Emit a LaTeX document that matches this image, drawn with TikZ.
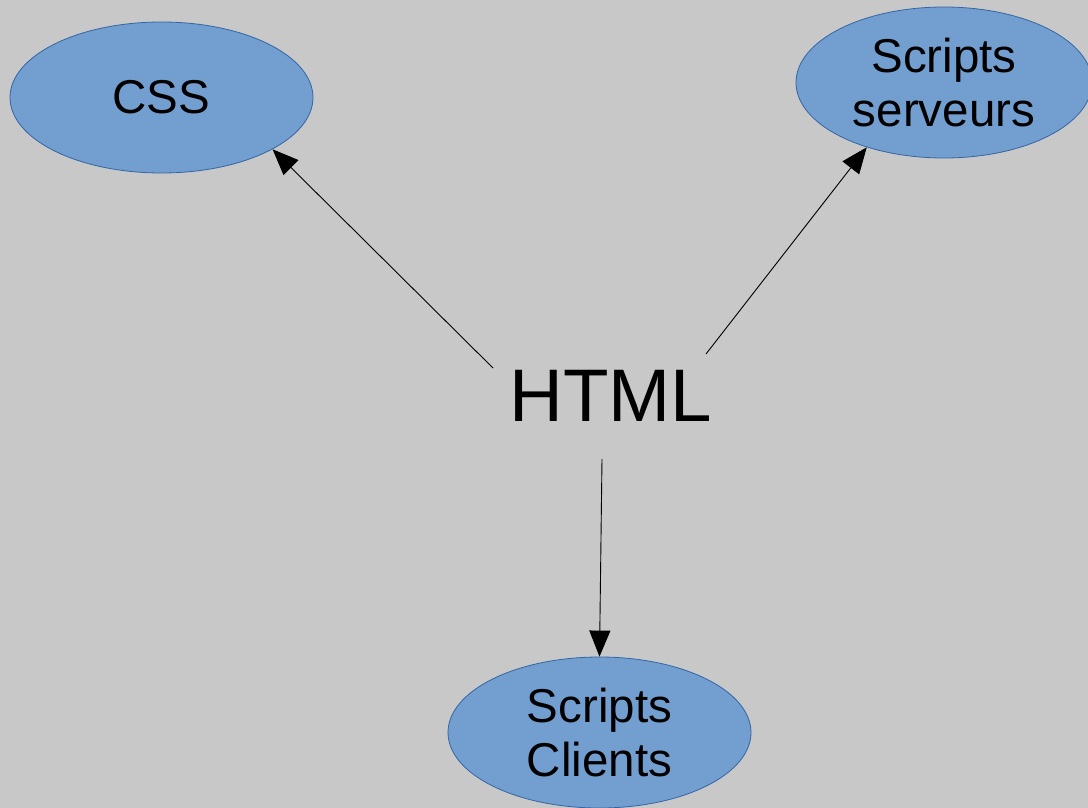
\documentclass[tikz,border=0pt]{standalone}
\usepackage{fontspec}
\setmainfont{Liberation Sans}
\usetikzlibrary{shapes.geometric,arrows.meta}
\definecolor{bg}{RGB}{200,200,200}
\definecolor{efill}{RGB}{114,159,207}
\definecolor{eline}{RGB}{52,101,164}
\begin{document}
\begin{tikzpicture}[x=1pt,y=-1pt,
  bubble/.style={ellipse,draw=eline,fill=efill,line width=0.8pt,inner sep=0pt,
    font=\fontsize{47.5}{54}\selectfont,align=center},
  conn/.style={line width=0.9pt,-{Triangle[length=26pt,width=21pt]}}]
\fill[bg] (0,0) rectangle (1088,808);
\useasboundingbox (0,0) rectangle (1088,808);
\node[bubble,minimum width=303pt,minimum height=151pt] (css) at (161.5,97.5) {CSS};
\node[bubble,minimum width=296pt,minimum height=151pt] (srv) at (944,82.5) {Scripts\\serveurs};
\node[bubble,minimum width=303pt,minimum height=151pt] (cli) at (599.5,732.5) {Scripts\\Clients};
\node[font=\fontsize{74.5}{80}\selectfont,inner sep=0pt] (html) at (611,396) {HTML};
\coordinate (s1) at (493,368);
\coordinate (s2) at (706,354);
\coordinate (s3) at (602,459);
\draw[conn] (s1) -- (css.-25.4);
\draw[conn] (s2) -- (srv.220.2);
\draw[conn] (s3) -- (cli.north);
\end{tikzpicture}
\end{document}
